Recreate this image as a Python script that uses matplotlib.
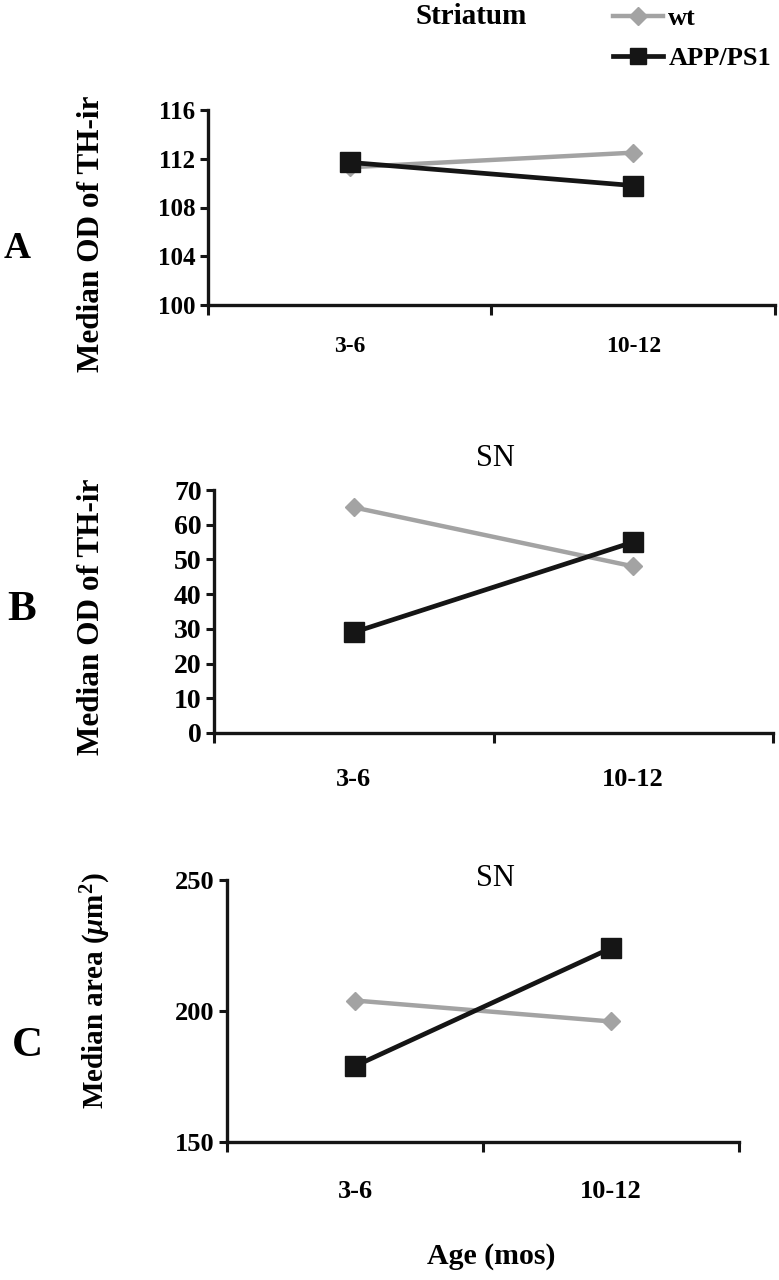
import matplotlib
matplotlib.use("Agg")
import matplotlib.pyplot as plt
from matplotlib.lines import Line2D
from matplotlib.ticker import FixedLocator

plt.rcParams['font.family'] = ['Liberation Serif', 'DejaVu Serif']
plt.rcParams['font.weight'] = 'bold'
plt.rcParams['mathtext.fontset'] = 'custom'
plt.rcParams['mathtext.rm'] = 'Liberation Serif:bold'
plt.rcParams['mathtext.it'] = 'Liberation Serif:italic:bold'

# data
ages = ["3-6", "10-12"]
series_names = ["wt", "APP/PS1"]

striatum_od_wt = [111.3, 112.5]
striatum_od_app = [111.7, 109.8]

sn_od_wt = [65, 48]
sn_od_app = [29, 55]

sn_area_wt = [204, 196]
sn_area_app = [179, 224]

W, H = 779, 1280
fig = plt.figure(figsize=(W / 100, H / 100), dpi=100)


def px_axes(left, top, right, bottom):
    return fig.add_axes([left / W, 1 - bottom / H, (right - left) / W, (bottom - top) / H])


def fx(x):
    return x / W


def fy(y):
    return 1 - y / H


GRAY = "#a3a3a3"
BLACK = "#151515"


def draw_panel(ax, wt, app, ylim, yticks, tick_fs, cat_fs, label_pad):
    xs = [0.5, 1.5]
    ax.plot(xs, wt, color=GRAY, lw=3.2, marker="D", ms=9, zorder=3)
    ax.plot(xs, app, color=BLACK, lw=3.4, marker="s", ms=15, zorder=4)
    ax.set_xlim(0, 2)
    ax.set_ylim(*ylim)
    ax.set_yticks(yticks)
    ax.set_yticklabels([str(t) for t in yticks], fontsize=tick_fs, fontweight="bold")
    ax.xaxis.set_major_locator(FixedLocator([0, 1, 2]))
    ax.xaxis.set_minor_locator(FixedLocator(xs))
    ax.set_xticklabels([])
    ax.set_xticklabels(ages, minor=True, fontsize=cat_fs, fontweight="bold")
    ax.tick_params(axis="x", which="major", direction="out", length=7, width=2.2, color=BLACK)
    ax.tick_params(axis="x", which="minor", length=0, pad=label_pad)
    ax.tick_params(axis="y", direction="out", length=6, width=2.2, color=BLACK, pad=3)
    for s in ["top", "right"]:
        ax.spines[s].set_visible(False)
    for s in ["left", "bottom"]:
        ax.spines[s].set_linewidth(2.4)
        ax.spines[s].set_color(BLACK)


axA = px_axes(208, 110, 775, 305)
draw_panel(axA, striatum_od_wt, striatum_od_app, (100, 116), [100, 104, 108, 112, 116], 18, 17, 22)

axB = px_axes(214, 490, 773, 733)
draw_panel(axB, sn_od_wt, sn_od_app, (0, 70), list(range(0, 71, 10)), 20, 19, 25)

axC = px_axes(227, 880, 739, 1142)
draw_panel(axC, sn_area_wt, sn_area_app, (150, 250), [150, 200, 250], 19, 19, 27)

# titles and labels
fig.text(fx(471), fy(17), "Striatum", fontsize=21, fontweight="bold", ha="center", va="center")
fig.text(fx(495), fy(458), "SN", fontsize=22, fontweight="normal", ha="center", va="center")
fig.text(fx(495), fy(879), "SN", fontsize=22, fontweight="normal", ha="center", va="center")

fig.text(fx(17), fy(249), "A", fontsize=27, fontweight="bold", ha="center", va="center")
fig.text(fx(22), fy(610), "B", fontsize=31, fontweight="bold", ha="center", va="center")
fig.text(fx(27), fy(1046), "C", fontsize=31, fontweight="bold", ha="center", va="center")

fig.text(fx(92), fy(234), "Median OD of TH-ir", fontsize=22.5, fontweight="bold",
         rotation=90, ha="center", va="center")
fig.text(fx(92), fy(617), "Median OD of TH-ir", fontsize=22.5, fontweight="bold",
         rotation=90, ha="center", va="center")
fig.text(fx(96), fy(991), r"Median area ($\mu$m$^{2}$)", fontsize=21, fontweight="bold",
         rotation=90, ha="center", va="center")

fig.text(fx(491), fy(1257), "Age (mos)", fontsize=21.5, fontweight="bold", ha="center", va="center")

handles = [
    Line2D([], [], color=GRAY, lw=3.2, marker="D", ms=9),
    Line2D([], [], color=BLACK, lw=3.4, marker="s", ms=11),
]
fig.legend(handles=handles, labels=series_names, loc="upper left",
           bbox_to_anchor=(fx(613), fy(7)), frameon=False, borderpad=0,
           borderaxespad=0, handlelength=1.9, labelspacing=0.62,
           handletextpad=0.2, prop={"weight": "bold", "size": 19})

fig.savefig("out.png", dpi=100)
